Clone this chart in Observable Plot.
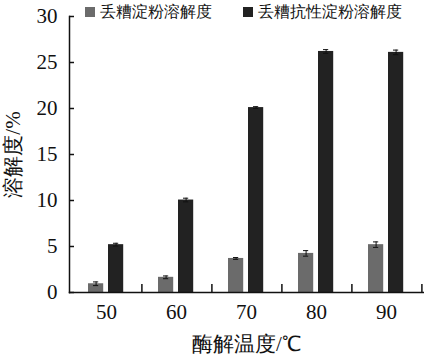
<!DOCTYPE html>
<html><head><meta charset="utf-8">
<script src="https://cdn.jsdelivr.net/npm/d3@7"></script>
<script src="https://cdn.jsdelivr.net/npm/@observablehq/plot@0.6"></script>
<style>
body{margin:0;background:#fff;}
#wrap{position:relative;width:424px;height:361px;font-family:"Liberation Serif";}
#legend{position:absolute;left:0;top:0;width:424px;height:22px;font-size:16px;color:#111;}
.item{position:absolute;top:3px;display:flex;align-items:center;white-space:nowrap;line-height:18px;}
.sw{width:10px;height:10px;margin-right:5px;}
</style></head>
<body><div id="wrap"><div id="legend"></div><div id="chart"></div></div>
<script>
const temps = [50, 60, 70, 80, 90];
const series = ["丢糟淀粉溶解度", "丢糟抗性淀粉溶解度"];
const starch = [0.95, 1.65, 3.7, 4.25, 5.2];
const starchErr = [0.2, 0.15, 0.1, 0.3, 0.3];
const resistant = [5.2, 10.05, 20.1, 26.2, 26.1];
const resistantErr = [0.15, 0.2, 0.1, 0.2, 0.25];
const yTicks = [0, 5, 10, 15, 20, 25, 30];
const colors = ["#6b6b6b", "#222222"];

const rows = [];
temps.forEach((t, i) => {
  rows.push({t, s: series[0], v: starch[i], e: starchErr[i]});
  rows.push({t, s: series[1], v: resistant[i], e: resistantErr[i]});
});
const A = rows.filter(d => d.s === series[0]);
const B = rows.filter(d => d.s === series[1]);

const W = 424, H = 361, mL = 69, mR = 1, mT = 16, mB = 69;
const bw = (W - mL - mR) / temps.length;
const ph = H - mT - mB;
const FF = "Liberation Serif";

const chart = Plot.plot({
  width: W, height: H,
  marginLeft: mL, marginRight: mR, marginTop: mT, marginBottom: mB,
  style: {fontFamily: FF, background: "#fff", color: "#111"},
  x: {type: "band", domain: temps, padding: 0},
  y: {domain: [0, 30]},
  marks: [
    Plot.barY(A, {x: "t", y: "v", fill: colors[0], insetLeft: 17, insetRight: bw - 33}),
    Plot.barY(B, {x: "t", y: "v", fill: colors[1], insetLeft: 37, insetRight: bw - 53}),
    Plot.ruleX(A, {x: "t", y1: d => d.v - d.e, y2: d => d.v + d.e, dx: 25 - bw / 2, stroke: "#111", strokeWidth: 1}),
    Plot.ruleX(B, {x: "t", y1: d => d.v - d.e, y2: d => d.v + d.e, dx: 45 - bw / 2, stroke: "#111", strokeWidth: 1}),
    Plot.tickY(A, {x: "t", y: d => d.v + d.e, insetLeft: 22, insetRight: bw - 28, stroke: "#111"}),
    Plot.tickY(A, {x: "t", y: d => d.v - d.e, insetLeft: 22, insetRight: bw - 28, stroke: "#111"}),
    Plot.tickY(B, {x: "t", y: d => d.v + d.e, insetLeft: 42, insetRight: bw - 48, stroke: "#111"}),
    Plot.tickY(B, {x: "t", y: d => d.v - d.e, insetLeft: 42, insetRight: bw - 48, stroke: "#111"}),
    Plot.ruleX(temps, {x: d => d, dx: bw / 2, insetTop: ph - 8, stroke: "#111", strokeWidth: 1.5}),
    Plot.ruleY(yTicks, {y: d => d, insetRight: W - mL - mR - 5, stroke: "#111", strokeWidth: 1.5}),
    Plot.frame({anchor: "left", stroke: "#111", strokeWidth: 1.5}),
    Plot.frame({anchor: "bottom", stroke: "#111", strokeWidth: 1.5}),
    Plot.axisY({ticks: yTicks, tickSize: 0, tickPadding: 12, fontSize: 21, fontFamily: FF, label: "溶解度/%", labelAnchor: "center", labelArrow: "none", labelOffset: 64}),
    Plot.axisX({tickSize: 0, tickPadding: 12, fontSize: 21, fontFamily: FF, label: "酶解温度/℃", labelAnchor: "center", labelArrow: "none", labelOffset: 58})
  ]
});
document.getElementById("chart").appendChild(chart);

const legend = document.getElementById("legend");
const lx = [85, 243];
series.forEach((s, i) => {
  const it = document.createElement("div");
  it.className = "item";
  it.style.left = lx[i] + "px";
  it.innerHTML = `<span class="sw" style="background:${colors[i]}"></span><span>${s}</span>`;
  legend.appendChild(it);
});
</script></body></html>
